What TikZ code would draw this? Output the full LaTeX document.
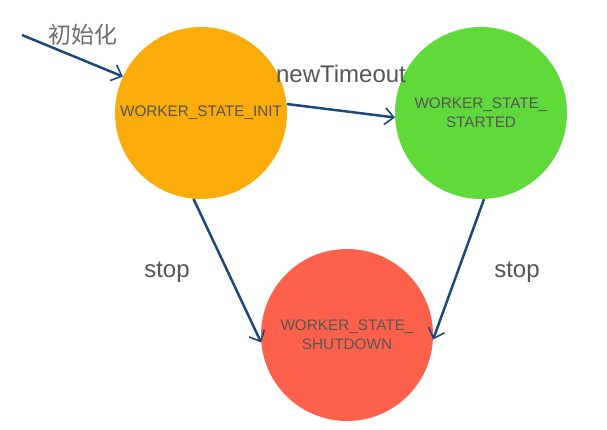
\documentclass[tikz,border=0pt]{standalone}
\usepackage{fontspec}
\setmainfont{Liberation Sans}
\newfontfamily\cjk{Noto Sans CJK SC}
\usepackage{xcolor}
\usetikzlibrary{arrows, arrows.meta}
\usetikzlibrary{positioning}
\definecolor{initcol}{RGB}{250,172,10}
\definecolor{startcol}{RGB}{96,217,58}
\definecolor{shutcol}{RGB}{253,97,75}
\definecolor{txtcol}{RGB}{85,85,85}
\definecolor{arrcol}{RGB}{28,72,122}
\tikzset{
	state/.style={circle, minimum size=172pt, inner sep=0pt, text=txtcol, align=center,
		font=\fontsize{15.3}{19}\selectfont},
	trans/.style={draw=arrcol, line width=2.5pt, -{Straight Barb[length=9pt,width=17pt,line width=1.6pt]}},
	lbl/.style={text=txtcol, font=\fontsize{24}{26}\selectfont}
}
\begin{document}
\begin{tikzpicture}[x=1pt,y=-1pt]
				\useasboundingbox (0,0) rectangle (607,430);
				% draw states
				\node[state, fill=initcol] (init) at (201,113) {WORKER\_STATE\_INIT};
				\node[state, fill=startcol] (started) at (481,113) {WORKER\_STATE\_\\STARTED};
				\node[state, fill=shutcol] (shutdown) at (347,335) {WORKER\_STATE\_\\SHUTDOWN};
				% entry point
				\coordinate (begin) at (22,35);
				% draw transitions
				\draw[trans] (begin) -- (init.155);
				\draw[trans] (init.6) -- (started.183);
				\draw[trans] (init.-95) -- (shutdown.185);
				\draw[trans] (started.-88) -- (shutdown.-3);
				% add labels
				\node[lbl, text=txtcol!85, font=\cjk\fontsize{23}{25}\selectfont] (initlbl) at (83,35) {初始化};
				\node[lbl] (newlbl) at (341,74) {newTimeout};
				\node[lbl] (stopl) at (167,272) {stop};
				\node[lbl] (stopr) at (517,272) {stop};
			\end{tikzpicture}
\end{document}
